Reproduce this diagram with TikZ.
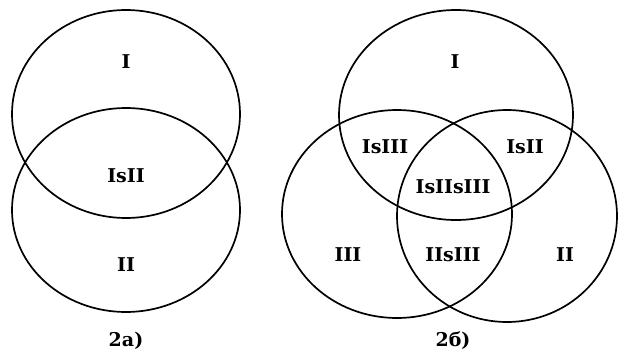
\documentclass[tikz,border=0pt]{standalone}
\usepackage{fontspec}
\setmainfont{DejaVu Serif}
\usepackage{tikz}

\begin{document}
\begin{tikzpicture}[x=1pt,y=-1pt,line width=1.7pt]
\useasboundingbox (0,0) rectangle (618,356);

% 2a) two sets
\draw (126,114) ellipse [x radius=114,y radius=104];
\draw (126,210) ellipse [x radius=114,y radius=102];

% 2b) three sets
\draw (456,115) ellipse [x radius=117,y radius=105];
\draw (397,214) ellipse [x radius=115,y radius=104];
\draw (507,216) ellipse [x radius=110,y radius=106];

% labels
\tikzset{lbl/.style={font=\bfseries\fontsize{19}{21}\selectfont,inner sep=0pt}}
\node[lbl] (a1) at (126,62) {I};
\node[lbl] (a12) at (126,176) {IsII};
\node[lbl] (a2) at (126,265) {II};
\node[lbl] (acap) at (126,341) {2a)};

\node[lbl] (b1) at (455,62) {I};
\node[lbl] (b13) at (385,147) {IsIII};
\node[lbl] (b12) at (525,147) {IsII};
\node[lbl] (b123) at (453,187) {IsIIsIII};
\node[lbl] (b3) at (348,255) {III};
\node[lbl] (b23) at (453,255) {IIsIII};
\node[lbl] (b2) at (565,255) {II};
\node[lbl] (bcap) at (453,341) {2б)};
\end{tikzpicture}
\end{document}
